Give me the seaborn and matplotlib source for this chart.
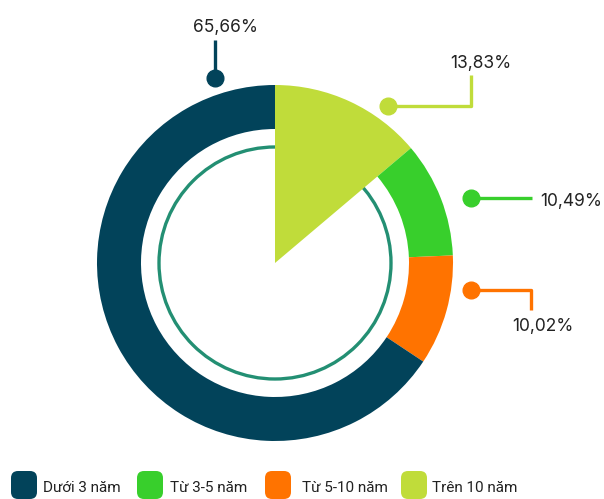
import numpy as np
import matplotlib
matplotlib.use("Agg")
import matplotlib.pyplot as plt
import seaborn as sns
from matplotlib.patches import FancyBboxPatch, Circle

# data
categories = ["Dưới 3 năm", "Từ 3-5 năm", "Từ 5-10 năm", "Trên 10 năm"]
values = [65.66, 10.49, 10.02, 13.83]
value_labels = ["65,66%", "10,49%", "10,02%", "13,83%"]
colors = ["#02435A", "#38CF2C", "#FF7300", "#C0DC3A"]

# clockwise from 12 o'clock
pie_order = [3, 1, 2, 0]

sns.set_theme(style="white")
plt.rcParams["font.family"] = ["Inter", "DejaVu Sans"]

W, H = 604, 499
fig = plt.figure(figsize=(W / 100, H / 100), dpi=100)
ax = fig.add_axes([0, 0, 1, 1])

cx, cy = 275, H - 263
R_out, R_in = 178, 134

wedges, _ = ax.pie(
    [values[i] for i in pie_order],
    colors=[colors[i] for i in pie_order],
    startangle=90, counterclock=False,
    radius=R_out, center=(cx, cy),
    wedgeprops=dict(width=R_out - R_in, linewidth=0),
)
# "Trên 10 năm" drawn as a full slice
wedges[0].set_width(None)

# thin inner circle
ax.add_patch(Circle((cx, cy), 116, fill=False, edgecolor="#238F73", linewidth=2.4, zorder=0))

ax.set_xlim(0, W)
ax.set_ylim(0, H)
ax.set_aspect("equal")
ax.axis("off")

# leader lines (image pixel coords -> flip y)
def fy(y):
    return H - y

leaders = {
    0: dict(path=[(215, 78), (215, 40)], text=(226, 27), ha="center"),
    3: dict(path=[(388, 106), (471, 106), (471, 75)], text=(481, 63), ha="center"),
    1: dict(path=[(471, 198), (532, 198)], text=(540, 201), ha="left"),
    2: dict(path=[(471, 290), (531, 290), (531, 310)], text=(543, 327), ha="center"),
}
for i, spec in leaders.items():
    xs = [p[0] for p in spec["path"]]
    ys = [fy(p[1]) for p in spec["path"]]
    ax.plot(xs, ys, color=colors[i], linewidth=2.4, solid_capstyle="butt", zorder=3)
    ax.plot(xs[0], ys[0], "o", color=colors[i], markersize=12, zorder=4)
    ax.text(spec["text"][0], fy(spec["text"][1]), value_labels[i], ha=spec["ha"],
            va="center", fontsize=12.5, color="#222222")

# legend with rounded swatches
legend_x = [11, 137, 265, 401]
text_x = [43, 170, 302, 432]
for i, cat in enumerate(categories):
    ax.add_patch(FancyBboxPatch((legend_x[i] + 4, fy(499) + 4), 18, 20,
                                boxstyle="round,pad=4,rounding_size=7",
                                facecolor=colors[i], edgecolor="none"))
    ax.text(text_x[i], fy(488), cat, ha="left", va="center", fontsize=11,
            family=["Roboto", "DejaVu Sans"], color="#222222")

fig.savefig("out.png", dpi=100)
